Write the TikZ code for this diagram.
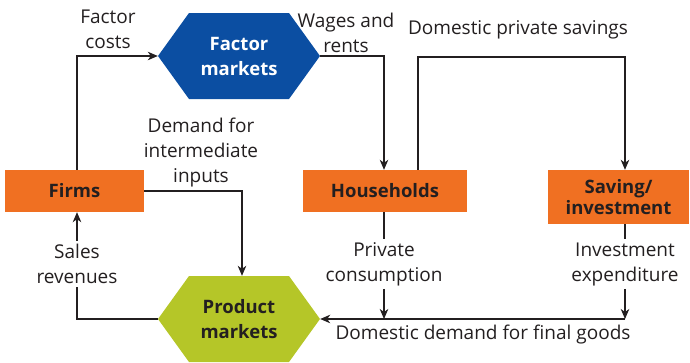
\documentclass[tikz,border=0pt]{standalone}
\usepackage{fontspec}
\setmainfont{Open Sans}
\usetikzlibrary{arrows.meta}
\definecolor{txt}{HTML}{231F20}
\definecolor{orng}{HTML}{F07022}
\definecolor{blu}{HTML}{0B4EA2}
\definecolor{lime}{HTML}{B5C628}
\tikzset{
  x=1pt, y=-1pt,
  every node/.style={font=\fontsize{19}{25}\selectfont, text=txt},
  lbl/.style={align=center, inner sep=1pt},
  wlbl/.style={align=center, inner sep=3pt, fill=white},
  boxnode/.style={fill=orng, inner sep=0pt, align=center, font=\fontsize{18.5}{21}\selectfont\bfseries},
  hexnode/.style={minimum width=162pt, minimum height=86pt, inner sep=0pt, align=center,
    font=\fontsize{18.5}{25}\selectfont\bfseries,
    path picture={\fill[#1] (path picture bounding box.west)
      -- ([xshift=31pt]path picture bounding box.north west)
      -- ([xshift=-31pt]path picture bounding box.north east)
      -- (path picture bounding box.east)
      -- ([xshift=-31pt]path picture bounding box.south east)
      -- ([xshift=31pt]path picture bounding box.south west) -- cycle;}},
  flow/.style={draw=txt, line width=1.2pt, -{Stealth[length=10pt,width=8.5pt,inset=3pt]}},
  plain/.style={draw=txt, line width=1.2pt}
}
\begin{document}
\begin{tikzpicture}
\useasboundingbox (0,0) rectangle (690,362);
% main nodes
\node[hexnode=blu, text=white] (fm) at (239,56) {Factor\\markets};
\node[hexnode=lime] (pm) at (239,319) {Product\\markets};
\node[boxnode, minimum width=139pt, minimum height=42pt] (firms) at (74.5,191) {Firms};
\node[boxnode, minimum width=164pt, minimum height=42pt] (hh) at (385,191) {Households};
\node[boxnode, minimum width=141pt, minimum height=54pt] (si) at (618.5,197) {Saving/\\investment};
% corner coordinates
\coordinate (c1) at (77,57);
\coordinate (c2) at (384,57);
\coordinate (c3) at (418,57);
\coordinate (c4) at (625,57);
\coordinate (c5) at (242,191);
\coordinate (c6) at (77,319);
\coordinate (c7) at (384,319);
\coordinate (c8) at (625,319);
% labels
\node[lbl] (lfc) at (108,29) {Factor\\costs};
\node[lbl] (lwr) at (346,33) {Wages and\\rents};
\node[lbl] (lds) at (518,30) {Domestic private savings};
\node[lbl] (ldi) at (201,153) {Demand for\\intermediate\\inputs};
\node[wlbl] (lsr) at (77,264) {Sales\\revenues};
\node[wlbl] (lpc) at (384,264) {Private\\consumption};
\node[wlbl] (lie) at (625,264) {Investment\\expenditure};
\node[lbl] (ldd) at (483,335) {Domestic demand for final goods};
% connectors
\draw[flow] (firms.north -| c1) |- (fm.west);
\draw[flow] (fm.east) -| (hh.north -| c2);
\draw[flow] (hh.north -| c3) |- (c4) -- (si.north -| c4);
\draw[flow] (firms.east) -| (pm.north -| c5);
\draw[plain] (pm.west) -| (lsr.south);
\draw[flow] (lsr.north) -- (firms.south -| c1);
\draw[plain] (hh.south -| c7) -- (lpc.north);
\draw[flow] (lpc.south) -- (c7);
\draw[plain] (si.south -| c8) -- (lie.north);
\draw[flow] (lie.south) -- (c8);
\draw[flow] (c8) -- (pm.east);
\end{tikzpicture}
\end{document}
